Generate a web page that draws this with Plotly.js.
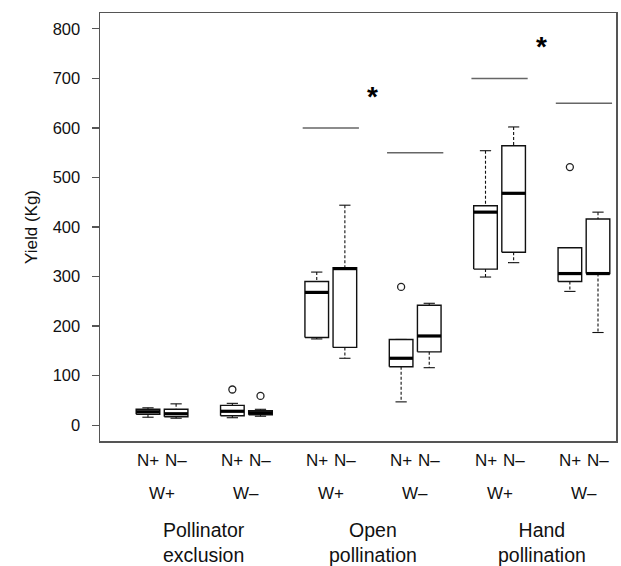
<!DOCTYPE html>
<html>
<head>
<meta charset="utf-8">
<script src="https://cdn.plot.ly/plotly-3.0.1.min.js"></script>
<style>html,body{margin:0;padding:0;background:#fff;}#chart{width:621px;height:566px;}</style>
</head>
<body>
<div id="chart"></div>
<script>
// ---- data ----
const positions = [1, 2, 4, 5, 7, 8, 10, 11, 13, 14, 16, 17];
const nLabels = ["N+", "N–", "N+", "N–", "N+", "N–", "N+", "N–", "N+", "N–", "N+", "N–"];
const lowerWhisker = [16, 14, 15, 18, 174, 135, 47, 116, 299, 328, 270, 187];
const q1Values     = [22, 17, 19, 21, 177, 157, 118, 148, 315, 349, 290, 306];
const medianValues = [27, 23, 28, 25, 268, 316, 135, 180, 430, 468, 306, 306];
const q3Values     = [32, 32, 40, 29, 290, 318, 173, 242, 443, 564, 358, 416];
const upperWhisker = [35, 43, 44, 32, 309, 444, 173, 246, 554, 602, 358, 430];
const outlierBox   = [2, 3, 6, 10];
const outlierValues = [72, 59, 279, 521];
const pairCenters = [1.5, 4.5, 7.5, 10.5, 13.5, 16.5];
const wLabels = ["W+", "W–", "W+", "W–", "W+", "W–"];
const groupCenters = [3, 9, 15];
const groupLabels = ["Pollinator<br>exclusion", "Open<br>pollination", "Hand<br>pollination"];
const sigLineValues = [600, 550, 700, 650];
const sigLinePairs = [2, 3, 4, 5];
const starX = [9, 15];
const starY = [676, 777];
const yTicks = [0, 100, 200, 300, 400, 500, 600, 700, 800];

const halfBox = 0.42, halfCap = 0.2;
const FONT = "Liberation Sans, Arial, Helvetica, sans-serif";
const traces = [];

positions.forEach((p, i) => {
  // whiskers (dashed)
  traces.push({x: [p, p, null, p, p], y: [upperWhisker[i], q3Values[i], null, q1Values[i], lowerWhisker[i]],
    mode: 'lines', line: {color: '#111', width: 1.1, dash: '3px,2px'}, hoverinfo: 'skip'});
  // caps
  traces.push({x: [p - halfCap, p + halfCap, null, p - halfCap, p + halfCap],
    y: [upperWhisker[i], upperWhisker[i], null, lowerWhisker[i], lowerWhisker[i]],
    mode: 'lines', line: {color: '#111', width: 1.1}, hoverinfo: 'skip'});
  // box
  traces.push({x: [p - halfBox, p + halfBox, p + halfBox, p - halfBox, p - halfBox],
    y: [q1Values[i], q1Values[i], q3Values[i], q3Values[i], q1Values[i]],
    mode: 'lines', line: {color: '#111', width: 1.4}, fill: 'toself', fillcolor: 'rgba(255,255,255,1)', hoverinfo: 'skip'});
  // median
  traces.push({x: [p - halfBox, p + halfBox], y: [medianValues[i], medianValues[i]],
    mode: 'lines', line: {color: '#000', width: 3.2}, hoverinfo: 'skip'});
});

// outliers
traces.push({x: outlierBox.map(b => positions[b]), y: outlierValues, mode: 'markers',
  marker: {symbol: 'circle-open', size: 7, color: '#222', line: {width: 1.3, color: '#222'}}, hoverinfo: 'skip'});

// significance lines
sigLinePairs.forEach((pi, k) => {
  traces.push({x: [positions[2 * pi] - 0.5, positions[2 * pi + 1] + 0.5], y: [sigLineValues[k], sigLineValues[k]],
    mode: 'lines', line: {color: '#666', width: 1.5}, hoverinfo: 'skip'});
});

const annotations = [];
positions.forEach((p, i) => annotations.push({x: p, y: -0.046, xref: 'x', yref: 'paper', text: nLabels[i],
  showarrow: false, xanchor: 'center', yanchor: 'middle', font: {family: FONT, size: 17, color: '#111'}}));
pairCenters.forEach((c, i) => annotations.push({x: c, y: -0.123, xref: 'x', yref: 'paper', text: wLabels[i],
  showarrow: false, xanchor: 'center', yanchor: 'middle', font: {family: FONT, size: 17, color: '#111'}}));
groupCenters.forEach((c, i) => annotations.push({x: c, y: -0.236, xref: 'x', yref: 'paper', text: groupLabels[i],
  showarrow: false, xanchor: 'center', yanchor: 'middle', font: {family: FONT, size: 19.5, color: '#111'}}));
starX.forEach((sx, i) => annotations.push({x: sx, y: starY[i], xref: 'x', yref: 'y', text: '<b>*</b>',
  showarrow: false, xanchor: 'center', yanchor: 'middle', yshift: -6, font: {family: FONT, size: 28, color: '#000'}}));

const layout = {
  width: 621, height: 566,
  margin: {l: 100, r: 5, t: 13, b: 125},
  paper_bgcolor: '#fff', plot_bgcolor: '#fff',
  showlegend: false,
  xaxis: {range: [-0.706, 17.64], showgrid: false, zeroline: false, showticklabels: false, ticks: '',
    showline: true, mirror: true, linecolor: '#555', linewidth: 1.5, fixedrange: true},
  yaxis: {range: [-32, 832], tickvals: yTicks, ticktext: yTicks.map(String), showgrid: false, zeroline: false,
    ticks: 'outside', ticklen: 7, tickcolor: '#555', tickwidth: 1.2, ticklabelstandoff: 8,
    tickfont: {family: FONT, size: 16.5, color: '#111'},
    showline: true, mirror: true, linecolor: '#555', linewidth: 1.5,
    title: {text: 'Yield (Kg)', font: {family: FONT, size: 17, color: '#111'}, standoff: 10}, fixedrange: true},
  annotations: annotations
};

Plotly.newPlot('chart', traces, layout, {displayModeBar: false, staticPlot: true});
</script>
</body>
</html>
